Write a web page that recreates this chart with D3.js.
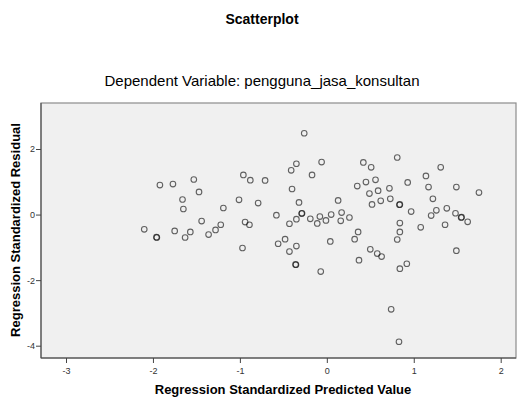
<!DOCTYPE html>
<html>
<head>
<meta charset="utf-8">
<script src="https://cdn.jsdelivr.net/npm/d3@7"></script>
<style>
  body { margin: 0; background: #fff; }
  text { font-family: "Liberation Sans", Arial, sans-serif; }
</style>
</head>
<body>
<svg id="chart" width="524" height="398"></svg>
<script>
// regression standardized predicted value (x) / standardized residual (y)
const predicted = [
  -2.10, -1.96, -1.955, -1.92, -1.77, -1.75, -1.66, -1.65, -1.63, -1.57,
  -1.53, -1.47, -1.44, -1.36, -1.28, -1.22, -1.19, -0.96, -0.88, -0.71,
  -1.01, -0.79, -0.94, -0.89, -0.97, -0.26, -0.35, -0.41, -0.06, -0.17,
  -0.40, -0.32, -0.58, -0.29, -0.285, -0.43, -0.35, -0.19, -0.11, -0.08,
  -0.01, 0.05, 0.13, 0.17, 0.16, 0.26, 0.04, -0.56, -0.48, -0.35,
  -0.43, -0.36, -0.355, -0.07, 0.81, 0.42, 0.51, 1.31, 1.14, 0.93,
  0.56, 0.45, 0.35, 1.17, 1.49, 0.72, 0.59, 0.49, 1.75, 1.22,
  0.73, 0.62, 0.52, 0.84, 0.835, 0.97, 1.26, 1.38, 1.20, 1.48,
  1.55, 1.545, 1.62, 1.36, 1.08, 0.84, 0.84, 0.81, 0.36, 0.32,
  0.50, 0.58, 0.63, 0.37, 1.49, 0.92, 0.84, 0.74, 0.83
]
const residual = [
  -0.45, -0.69, -0.70, 0.90, 0.93, -0.50, 0.46, 0.17, -0.70, -0.53,
  1.07, 0.69, -0.20, -0.61, -0.47, -0.31, 0.20, 1.21, 1.05, 1.04,
  0.45, 0.35, -0.23, -0.31, -1.02, 2.48, 1.55, 1.35, 1.60, 1.21,
  0.78, 0.37, -0.02, 0.03, 0.04, -0.28, -0.14, -0.13, -0.27, -0.06,
  -0.18, 0.00, 0.43, 0.06, -0.19, -0.09, -0.82, -0.89, -0.75, -0.96,
  -1.13, -1.52, -1.53, -1.74, 1.74, 1.59, 1.44, 1.44, 1.18, 0.98,
  1.06, 0.99, 0.87, 0.84, 0.84, 0.80, 0.73, 0.64, 0.67, 0.48,
  0.48, 0.42, 0.31, 0.31, 0.30, 0.09, 0.13, 0.19, -0.03, 0.04,
  -0.08, -0.09, -0.22, -0.31, -0.39, -0.26, -0.53, -0.76, -0.53, -0.75,
  -1.06, -1.19, -1.28, -1.39, -1.10, -1.50, -1.65, -2.89, -3.88
]
const xTicks = [-3, -2, -1, 0, 1, 2]
const yTicks = [-4, -2, 0, 2]

const svg = d3.select("#chart")
const frame = {left: 41, right: 516, top: 103, bottom: 358}

const x = d3.scaleLinear().domain([-3, 2]).range([66, 500.7])
const y = d3.scaleLinear().domain([-4, 2]).range([345.7, 149])
const fmt = d => String(d)  // plain hyphen minus like SPSS

// titles
svg.append("text")
  .attr("x", 262).attr("y", 24)
  .attr("text-anchor", "middle")
  .attr("fill", "#000")
  .style("font-size", "14px").style("font-weight", "bold")
  .text("Scatterplot")

svg.append("text")
  .attr("x", 262).attr("y", 86)
  .attr("text-anchor", "middle")
  .attr("fill", "#000")
  .style("font-size", "15px")
  .text("Dependent Variable: pengguna_jasa_konsultan")

// plot background
svg.append("rect")
  .attr("x", frame.left).attr("y", frame.top)
  .attr("width", frame.right - frame.left)
  .attr("height", frame.bottom - frame.top)
  .attr("fill", "#f0f0f0")
  .attr("stroke", "#8c8c8c")
  .attr("stroke-width", 1.2)

// axes
const xAxis = d3.axisBottom(x).tickValues(xTicks).tickFormat(fmt).tickSize(5).tickSizeOuter(0)
const gx = svg.append("g")
  .attr("transform", `translate(0,${frame.bottom})`)
  .call(xAxis)
gx.select(".domain").attr("d", `M${frame.left},0H${frame.right}`).attr("stroke", "#444")
gx.selectAll(".tick line").attr("stroke", "#444")
gx.selectAll(".tick text")
  .attr("fill", "#333").style("font-size", "9px").attr("dy", "0.9em")

const yAxis = d3.axisLeft(y).tickValues(yTicks).tickFormat(fmt).tickSize(5).tickSizeOuter(0)
const gy = svg.append("g")
  .attr("transform", `translate(${frame.left},0)`)
  .call(yAxis)
gy.select(".domain").attr("d", `M0,${frame.top}V${frame.bottom}`).attr("stroke", "#444")
gy.selectAll(".tick line").attr("stroke", "#444")
gy.selectAll(".tick text")
  .attr("fill", "#333").style("font-size", "9px").attr("x", -6)

// axis titles
svg.append("text")
  .attr("x", 283).attr("y", 394)
  .attr("text-anchor", "middle")
  .attr("fill", "#000")
  .style("font-size", "13px").style("font-weight", "bold")
  .text("Regression Standardized Predicted Value")

svg.append("text")
  .attr("transform", "translate(20,230) rotate(-90)")
  .attr("text-anchor", "middle")
  .attr("fill", "#000")
  .style("font-size", "13px").style("font-weight", "bold")
  .text("Regression Standardized Residual")

// points
svg.append("g")
  .selectAll("circle")
  .data(predicted.map((p, i) => [p, residual[i]]))
  .join("circle")
  .attr("cx", d => x(d[0]))
  .attr("cy", d => y(d[1]))
  .attr("r", 2.8)
  .attr("fill", "none")
  .attr("stroke", "#000")
  .attr("stroke-opacity", 0.6)
  .attr("stroke-width", 1.1)
</script>
</body>
</html>
